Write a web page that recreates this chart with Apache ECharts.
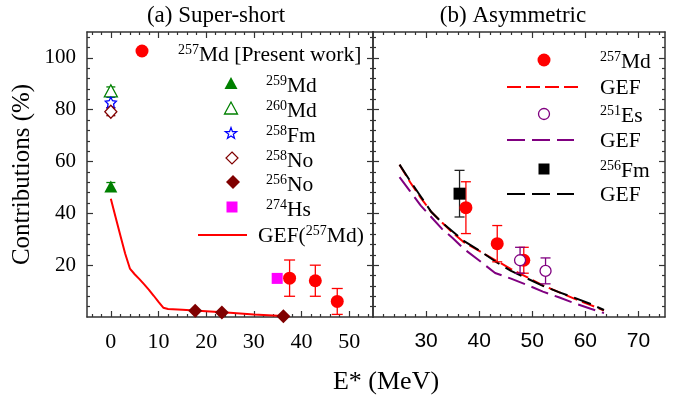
<!DOCTYPE html>
<html><head><meta charset="utf-8">
<script src="https://cdn.jsdelivr.net/npm/echarts@6/dist/echarts.min.js"></script>
<style>html,body{margin:0;padding:0;background:#fff}#c{width:683px;height:398px}</style>
</head><body><div id="c"></div>
<script>
// ---------- DATA ----------
// tick labels
const xTicksA = [0, 10, 20, 30, 40, 50];
const xTicksB = [30, 40, 50, 60, 70];
const yTicks = [20, 40, 60, 80, 100];

// (a) Super-short
const md257ssE = [37.5, 42.9, 47.5];
const md257ssV = [15.0, 14.0, 6.0];
const md257ssErr = [7.0, 6.0, 5.0];
const md259E = [0];   const md259V = [50.4]; const md259Err = [1.5];
const md260E = [0];   const md260V = [87.3]; const md260Err = [1.5];
const fm258E = [0];   const fm258V = [82.8]; const fm258Err = [2.0];
const no258E = [0];   const no258V = [79.2]; const no258Err = [1.5];
const no256E = [17.7, 23.3, 36.2];
const no256V = [2.4, 1.7, 0.3];
const hs274E = [34.9]; const hs274V = [14.9];
const gefSsE = [0, 1, 2, 3, 4, 5, 6, 7, 8, 9, 10, 11, 12, 15, 20, 25, 30, 37];
const gefSsV = [45.6, 38.5, 31.5, 24.5, 18.7, 16.5, 14.6, 12.6, 10.5, 8.2, 5.8, 3.6, 3.1, 2.8, 2.2, 1.6, 1.0, 0.3];

// (b) Asymmetric
const md257asE = [37.5, 43.4, 48.4];
const md257asV = [42.2, 28.3, 21.9];
const md257asErr = [10.0, 7.0, 5.0];
const es251E = [47.7, 52.5];
const es251V = [21.9, 17.8];
const es251Err = [5.0, 5.0];
const fm256E = [36.3];
const fm256V = [47.6];
const fm256Err = [9.0];
const gefAsE = [25, 27, 29, 31, 33, 35, 37, 40, 43, 46, 49, 52, 55, 58, 61, 63.5];
const gefMdV = [58.8, 52.0, 46.0, 40.5, 36.5, 32.5, 29.0, 25.5, 22.0, 18.5, 15.4, 12.2, 9.6, 7.0, 4.6, 2.5];
const gefEsV = [54.0, 48.5, 43.0, 38.5, 34.0, 30.5, 26.5, 21.8, 17.0, 14.8, 12.4, 9.8, 7.6, 5.3, 3.2, 1.5];
const gefFmV = [58.8, 52.5, 46.5, 40.5, 36.5, 33.0, 29.5, 25.7, 21.5, 17.8, 14.9, 12.0, 9.6, 7.4, 5.0, 2.7];

// ---------- HELPERS ----------
const serif = '"Liberation Serif","Times New Roman",serif';
const sans = '"Liberation Sans",Arial,sans-serif';
const AX = '#333';
const RED = '#ff0000', GREEN = '#008000', BLUE = '#0000ff', MAROON = '#800000',
      MAG = '#ff00ff', PURPLE = '#800080', BLACK = '#000000';

function range(a, b, s) { const r = []; for (let v = a; v <= b + 1e-9; v += s) r.push(+v.toFixed(6)); return r; }
const xMinorA = range(-4, 54, 2).filter(v => v % 10 !== 0);
const xMinorB = range(22, 74, 2).filter(v => v % 10 !== 0);
const yMinor = range(4, 108, 4).filter(v => v % 20 !== 0);

function zip(a, b) { return a.map((v, i) => [v, b[i]]); }
function errData(e, v, d) { return e.map((x, i) => [x, v[i] - d[i], v[i] + d[i]]); }

function mkAxis(o) {
  return {
    type: 'value', min: o.min, max: o.max, gridIndex: o.grid, position: o.pos,
    axisLine: { show: o.line !== false, onZero: false, lineStyle: { color: AX, width: 1.5 } },
    axisTick: { show: true, inside: true, length: o.len, customValues: o.ticks, lineStyle: { color: AX, width: 1.2 } },
    axisLabel: o.label ? Object.assign({ show: true, customValues: o.ticks, color: '#000' }, o.label) : { show: false },
    splitLine: { show: false }, minorTick: { show: false },
    name: o.name, nameLocation: 'middle', nameRotate: o.nameRotate, nameGap: o.nameGap,
    nameTextStyle: o.nameTextStyle
  };
}

const xAxes = [
  mkAxis({ grid: 0, pos: 'bottom', min: -5, max: 55, ticks: xTicksA, len: 6,
           label: { fontFamily: serif, fontSize: 22, margin: 14 } }),
  mkAxis({ grid: 0, pos: 'bottom', min: -5, max: 55, ticks: xMinorA, len: 3, line: false }),
  mkAxis({ grid: 0, pos: 'top', min: -5, max: 55, ticks: xTicksA, len: 6 }),
  mkAxis({ grid: 0, pos: 'top', min: -5, max: 55, ticks: xMinorA, len: 3, line: false }),
  mkAxis({ grid: 1, pos: 'bottom', min: 20, max: 75, ticks: xTicksB, len: 6,
           label: { fontFamily: sans, fontSize: 21, margin: 14 } }),
  mkAxis({ grid: 1, pos: 'bottom', min: 20, max: 75, ticks: xMinorB, len: 3, line: false }),
  mkAxis({ grid: 1, pos: 'top', min: 20, max: 75, ticks: xTicksB, len: 6 }),
  mkAxis({ grid: 1, pos: 'top', min: 20, max: 75, ticks: xMinorB, len: 3, line: false })
];
const yAxes = [
  mkAxis({ grid: 0, pos: 'left', min: 0, max: 110, ticks: yTicks, len: 6,
           label: { fontFamily: serif, fontSize: 21, margin: 11 },
           name: 'Contributions (%)', nameRotate: 90, nameGap: 52,
           nameTextStyle: { fontFamily: serif, fontSize: 25, color: '#000' } }),
  mkAxis({ grid: 0, pos: 'left', min: 0, max: 110, ticks: yMinor, len: 3, line: false }),
  mkAxis({ grid: 0, pos: 'right', min: 0, max: 110, ticks: yTicks, len: 6 }),
  mkAxis({ grid: 0, pos: 'right', min: 0, max: 110, ticks: yMinor, len: 3, line: false }),
  mkAxis({ grid: 1, pos: 'left', min: 0, max: 110, ticks: yTicks, len: 6 }),
  mkAxis({ grid: 1, pos: 'left', min: 0, max: 110, ticks: yMinor, len: 3, line: false }),
  mkAxis({ grid: 1, pos: 'right', min: 0, max: 110, ticks: yTicks, len: 6 }),
  mkAxis({ grid: 1, pos: 'right', min: 0, max: 110, ticks: yMinor, len: 3, line: false })
];

function errSeries(name, g, data, color, cap) {
  return {
    name: name, type: 'custom', coordinateSystem: 'cartesian2d',
    xAxisIndex: g ? 4 : 0, yAxisIndex: g ? 4 : 0, z: 3, silent: true,
    encode: { x: 0, y: [1, 2] }, data: data,
    renderItem: function (params, api) {
      const x = api.value(0), lo = api.value(1), hi = api.value(2);
      const p1 = api.coord([x, hi]), p2 = api.coord([x, lo]);
      const st = { stroke: color, lineWidth: 1.3 };
      return { type: 'group', children: [
        { type: 'line', shape: { x1: p1[0], y1: p1[1], x2: p2[0], y2: p2[1] }, style: st },
        { type: 'line', shape: { x1: p1[0] - cap, y1: p1[1], x2: p1[0] + cap, y2: p1[1] }, style: st },
        { type: 'line', shape: { x1: p2[0] - cap, y1: p2[1], x2: p2[0] + cap, y2: p2[1] }, style: st }
      ] };
    }
  };
}
function scat(name, g, data, symbol, size, fill, stroke, z) {
  return {
    name: name, type: 'scatter', xAxisIndex: g ? 4 : 0, yAxisIndex: g ? 4 : 0,
    data: data, symbol: symbol, symbolSize: size, symbolKeepAspect: true, z: z || 5, silent: true,
    itemStyle: { color: fill, borderColor: stroke, borderWidth: stroke ? 1.3 : 0, opacity: 1 }
  };
}
function line(name, g, data, color, type) {
  return {
    name: name, type: 'line', xAxisIndex: g ? 4 : 0, yAxisIndex: g ? 4 : 0,
    data: data, symbol: 'none', showSymbol: false, z: 2, silent: true,
    lineStyle: { color: color, width: 2, type: type }
  };
}
const STAR = 'path://M0,-10L2.94,-4.05L9.51,-3.09L4.76,1.55L5.88,8.09L0,5L-5.88,8.09L-4.76,1.55L-9.51,-3.09L-2.94,-4.05Z';

const series = [
  line('GEF(257Md)', 0, zip(gefSsE, gefSsV), RED, 'solid'),
  errSeries('err257ss', 0, errData(md257ssE, md257ssV, md257ssErr), RED, 5.5),
  errSeries('err259', 0, errData(md259E, md259V, md259Err), GREEN, 4.5),
  errSeries('err260', 0, errData(md260E, md260V, md260Err), GREEN, 4.5),
  errSeries('err258fm', 0, errData(fm258E, fm258V, fm258Err), BLUE, 4.5),
  errSeries('err258no', 0, errData(no258E, no258V, no258Err), MAROON, 4.5),
  scat('257Md', 0, zip(md257ssE, md257ssV), 'circle', 13, RED),
  scat('259Md', 0, zip(md259E, md259V), 'triangle', [13, 12], GREEN),
  scat('260Md', 0, zip(md260E, md260V), 'triangle', [13, 12], '#fff', GREEN),
  scat('258Fm', 0, zip(fm258E, fm258V), STAR, 11, '#fff', BLUE, 6),
  scat('258No', 0, zip(no258E, no258V), 'diamond', [12, 13], '#fff', MAROON, 7),
  scat('256No', 0, zip(no256E, no256V), 'diamond', [14, 14], MAROON),
  scat('274Hs', 0, zip(hs274E, hs274V), 'rect', 11, MAG),

  line('GEF Md', 1, zip(gefAsE, gefMdV), RED, [13, 5]),
  line('GEF Es', 1, zip(gefAsE, gefEsV), PURPLE, [18, 7]),
  line('GEF Fm', 1, zip(gefAsE, gefFmV), BLACK, [18, 7]),
  errSeries('err257as', 1, errData(md257asE, md257asV, md257asErr), RED, 5),
  errSeries('err251', 1, errData(es251E, es251V, es251Err), PURPLE, 5),
  errSeries('err256fm', 1, errData(fm256E, fm256V, fm256Err), '#222', 5),
  scat('257Md b', 1, zip(md257asE, md257asV), 'circle', 13, RED, null, 5),
  scat('251Es', 1, zip(es251E, es251V), 'circle', 11, '#fff', PURPLE, 6),
  scat('256Fm', 1, zip(fm256E, fm256V), 'rect', 12, BLACK, null, 6)
];

// ---------- LEGEND / TEXT GRAPHICS ----------
function rt(x, y, parts) {
  const txt = parts.map(p => p[0] === 's' ? '{s|' + p[1] + '}' : '{m|' + p[1] + '}').join('');
  return { type: 'text', x: x, y: y, z: 100, silent: true, style: {
    text: txt, verticalAlign: 'middle', align: 'left',
    rich: {
      s: { fontSize: 14, fontFamily: serif, fill: '#000', verticalAlign: 'top', lineHeight: 12 },
      m: { fontSize: 21.5, fontFamily: serif, fill: '#000', lineHeight: 24, verticalAlign: 'middle' }
    } } };
}
function starPts(cx, cy, ro, ri) {
  const pts = [];
  for (let i = 0; i < 10; i++) {
    const a = -Math.PI / 2 + i * Math.PI / 5, r = i % 2 ? ri : ro;
    pts.push([cx + r * Math.cos(a), cy + r * Math.sin(a)]);
  }
  return pts;
}
const graphics = [
  { type: 'text', x: 216, y: 16, style: { text: '(a) Super-short', fontFamily: serif, fontSize: 23, fill: '#000', align: 'center', verticalAlign: 'middle' } },
  { type: 'text', x: 513, y: 16, style: { text: '(b) Asymmetric', fontFamily: serif, fontSize: 23, fill: '#000', align: 'center', verticalAlign: 'middle' } },
  { type: 'text', x: 386, y: 382, style: { text: 'E* (MeV)', fontFamily: serif, fontSize: 26, fill: '#000', align: 'center', verticalAlign: 'middle' } },

  // left legend
  { type: 'circle', shape: { cx: 142, cy: 51, r: 6.5 }, style: { fill: RED } },
  rt(178, 55, [['s', '257'], ['m', 'Md [Present work]']]),
  { type: 'polygon', shape: { points: [[224.5, 89], [237.5, 89], [231, 77]] }, style: { fill: GREEN } },
  rt(266, 86, [['s', '259'], ['m', 'Md']]),
  { type: 'polygon', shape: { points: [[224.5, 114], [237.5, 114], [231, 102]] }, style: { fill: '#fff', stroke: GREEN, lineWidth: 1.3 } },
  rt(266, 111, [['s', '260'], ['m', 'Md']]),
  { type: 'polygon', shape: { points: starPts(231, 133.5, 6, 2.4) }, style: { fill: '#fff', stroke: BLUE, lineWidth: 1.2 } },
  rt(266, 136, [['s', '258'], ['m', 'Fm']]),
  { type: 'polygon', shape: { points: [[232, 152], [238, 158], [232, 164], [226, 158]] }, style: { fill: '#fff', stroke: MAROON, lineWidth: 1.2 } },
  rt(266, 161, [['s', '258'], ['m', 'No']]),
  { type: 'polygon', shape: { points: [[233, 175], [240, 182], [233, 189], [226, 182]] }, style: { fill: MAROON } },
  rt(266, 185, [['s', '256'], ['m', 'No']]),
  { type: 'rect', shape: { x: 226.5, y: 201.5, width: 11, height: 11 }, style: { fill: MAG } },
  rt(266, 210, [['s', '274'], ['m', 'Hs']]),
  { type: 'line', shape: { x1: 198, y1: 235, x2: 247, y2: 235 }, style: { stroke: RED, lineWidth: 2 } },
  rt(258, 236, [['m', 'GEF('], ['s', '257'], ['m', 'Md)']]),

  // right legend
  { type: 'circle', shape: { cx: 544, cy: 60, r: 6.5 }, style: { fill: RED } },
  rt(600, 62, [['s', '257'], ['m', 'Md']]),
  { type: 'line', shape: { x1: 507, y1: 87, x2: 578, y2: 87 }, style: { stroke: RED, lineWidth: 2, lineDash: [14, 5] } },
  rt(600, 88, [['m', 'GEF']]),
  { type: 'circle', shape: { cx: 544, cy: 114, r: 5.5 }, style: { fill: '#fff', stroke: PURPLE, lineWidth: 1.3 } },
  rt(600, 116, [['s', '251'], ['m', 'Es']]),
  { type: 'line', shape: { x1: 507, y1: 140, x2: 574, y2: 140 }, style: { stroke: PURPLE, lineWidth: 2, lineDash: [18, 7] } },
  rt(600, 141, [['m', 'GEF']]),
  { type: 'rect', shape: { x: 538.5, y: 163.5, width: 11, height: 11 }, style: { fill: BLACK } },
  rt(600, 171, [['s', '256'], ['m', 'Fm']]),
  { type: 'line', shape: { x1: 507, y1: 194, x2: 574, y2: 194 }, style: { stroke: BLACK, lineWidth: 2, lineDash: [18, 7] } },
  rt(600, 195, [['m', 'GEF']])
];

const chart = echarts.init(document.getElementById('c'), null, { renderer: 'canvas' });
chart.setOption({
  animation: false,
  backgroundColor: '#fff',
  textStyle: { fontFamily: serif },
  grid: [
    { left: 87, top: 32, width: 286, height: 285, containLabel: false },
    { left: 373, top: 32, width: 292, height: 285, containLabel: false }
  ],
  xAxis: xAxes,
  yAxis: yAxes,
  series: series,
  graphic: graphics
});
</script></body></html>
